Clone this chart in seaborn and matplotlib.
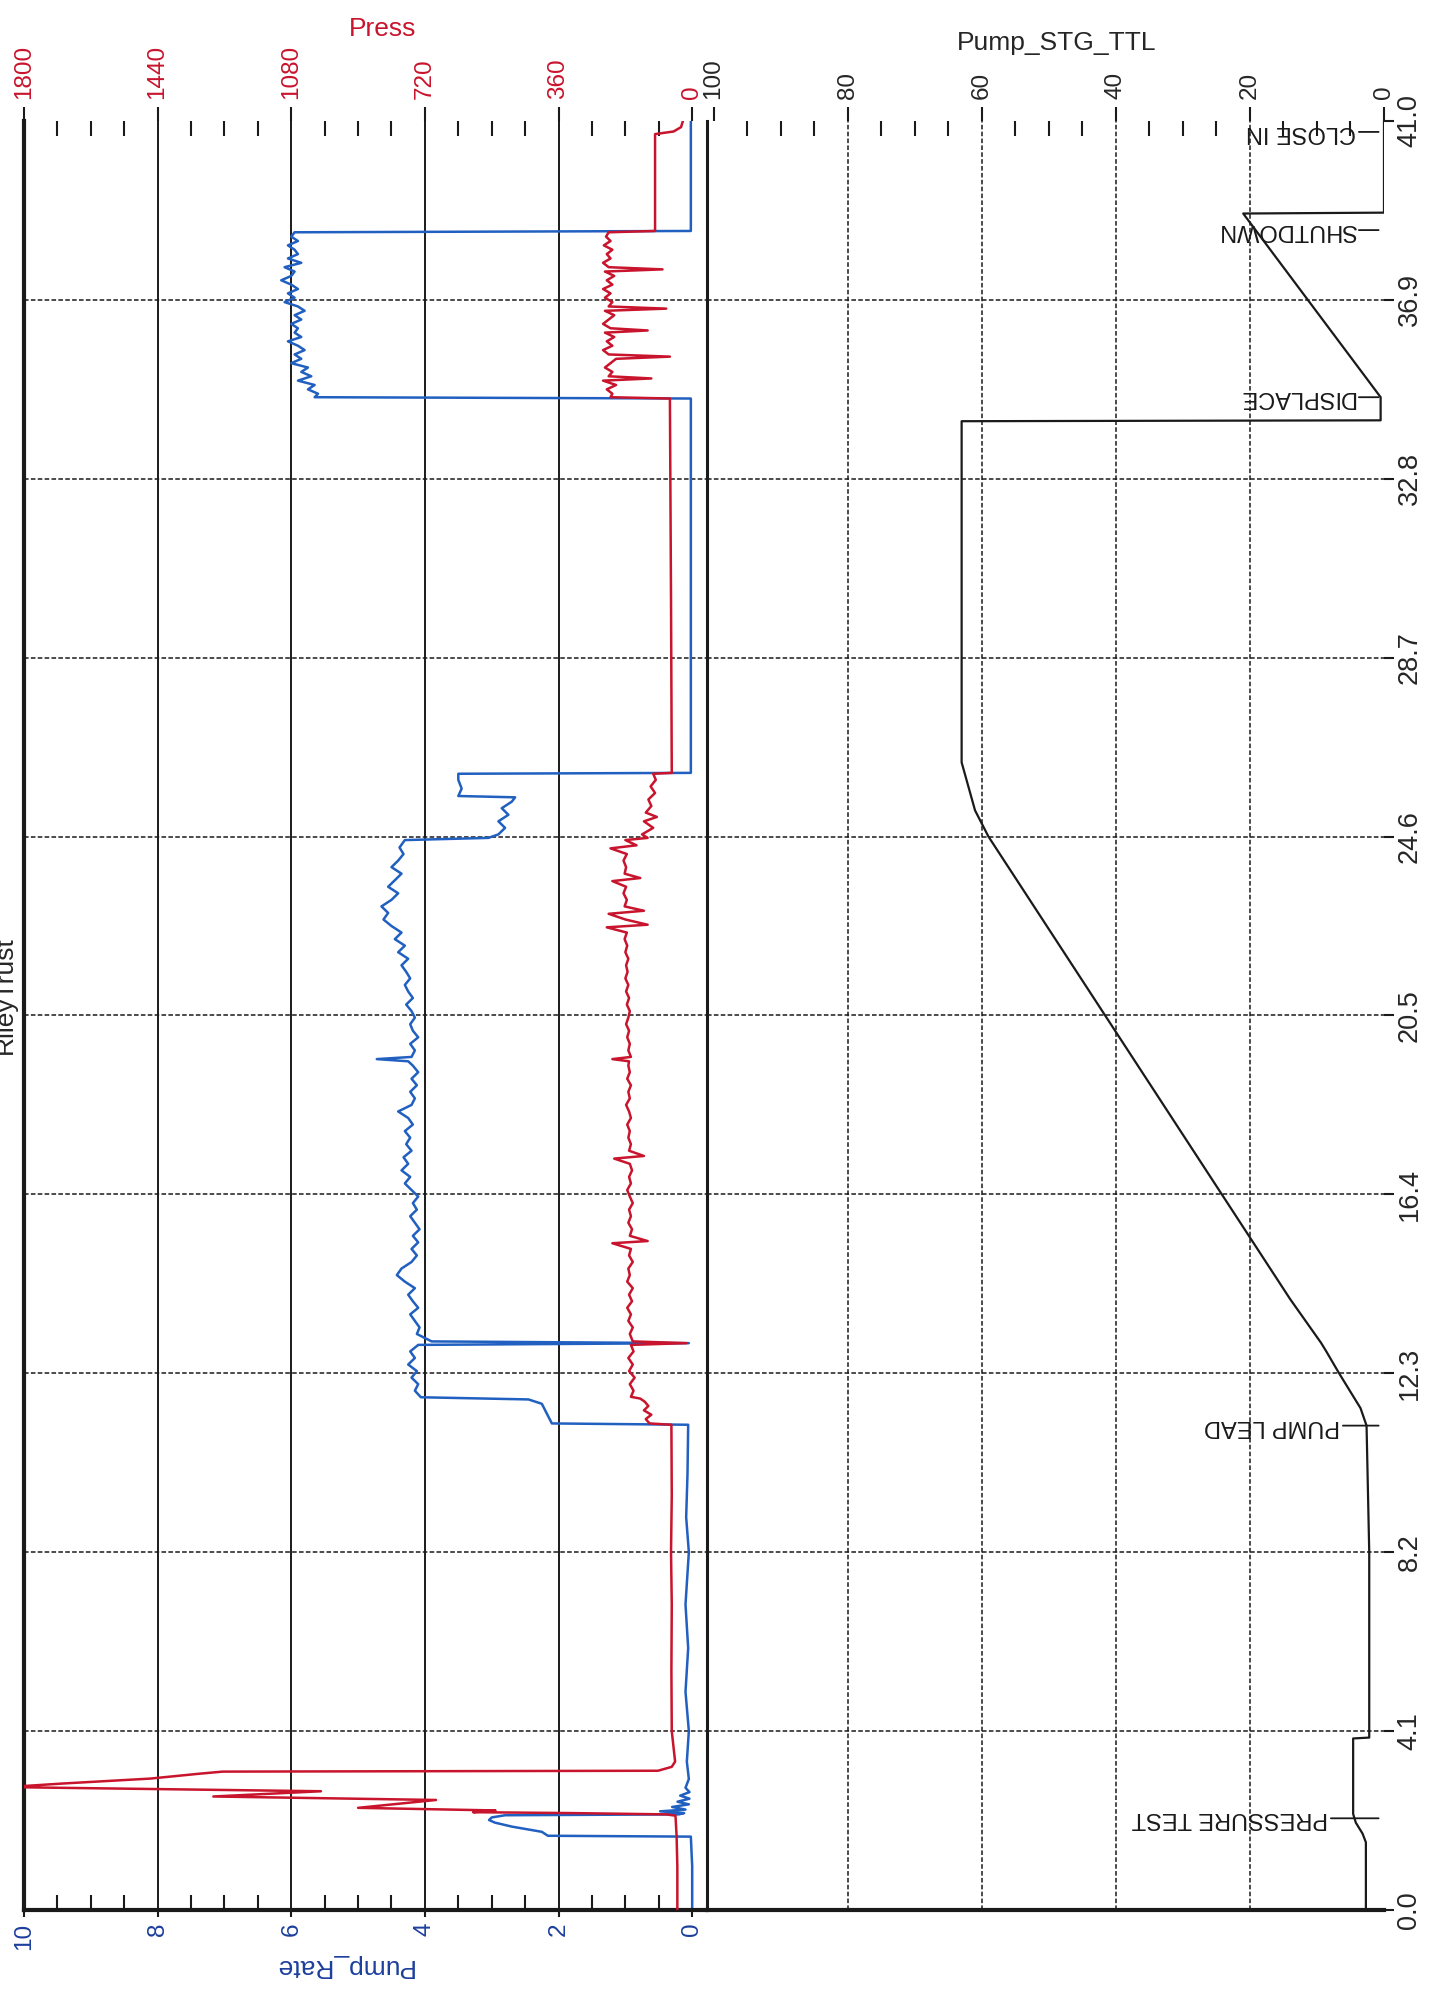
#! /usr/bin/env python3
import pandas as pd
import seaborn as sns
import matplotlib
matplotlib.use('Agg')
import matplotlib.pyplot as plt
from matplotlib.ticker import MultipleLocator

# Output size (pixels) at 100 dpi
FIG_W, FIG_H, DPI = 1453, 1997, 100

# Colours
RED = '#c8142c'
BLUE = '#2160c0'
LABEL_BLUE = '#1c3f9c'

# Axis ticks
TIME_TICKS = [0.0, 4.1, 8.2, 12.3, 16.4, 20.5, 24.6, 28.7, 32.8, 36.9, 41.0]
TIME_LABELS = ['0.0', '4.1', '8.2', '12.3', '16.4', '20.5', '24.6', '28.7', '32.8', '36.9', '41.0']
RATE_TICKS = [0, 2, 4, 6, 8, 10]
PRESS_TICKS = [0, 360, 720, 1080, 1440, 1800]
STG_TICKS = [0, 20, 40, 60, 80, 100]

# Pump_Rate trace (time, value)
rate_t = [0.0, 1.0, 1.68, 1.70, 1.79, 1.91, 2.00, 2.06, 2.12, 2.17, 2.19, 2.22, 2.26, 2.30, 2.36, 2.42, 2.48, 2.55, 2.62, 2.70, 2.80, 3.00, 3.40,
          4.1, 5.0, 6.0, 7.0, 8.2, 9.0, 10.0, 11.12,
          11.15, 11.30, 11.45, 11.60, 11.70, 11.75, 11.90, 12.05, 12.20, 12.35, 12.50, 12.65, 12.80, 12.95, 12.99, 13.03,
          13.20, 13.35, 13.50, 13.65, 13.80, 13.95, 14.10, 14.25, 14.40, 14.55, 14.70, 14.85, 15.00, 15.15, 15.30, 15.45, 15.60, 15.75, 15.90, 16.05,
          16.20, 16.35, 16.50, 16.65, 16.80, 16.95, 17.10, 17.25, 17.40, 17.55, 17.70, 17.85, 18.00, 18.15, 18.30, 18.45, 18.60, 18.75, 18.90, 19.05,
          19.20, 19.35, 19.45, 19.50, 19.55, 19.70, 19.85, 20.00, 20.15, 20.30, 20.45, 20.60, 20.75, 20.90, 21.05, 21.20, 21.35, 21.50, 21.65, 21.80,
          21.95, 22.10, 22.25, 22.40, 22.55, 22.70, 22.85, 23.00, 23.15, 23.30, 23.45, 23.60, 23.75, 23.90, 24.05, 24.20, 24.35, 24.52,
          24.57, 24.65, 24.80, 24.95, 25.10, 25.25, 25.40, 25.50, 25.53, 25.70, 25.90, 26.04, 26.06, 30.0, 34.64,
          34.67, 34.75, 34.85, 34.95, 35.05, 35.15, 35.25, 35.35, 35.45, 35.55, 35.65, 35.75, 35.85, 35.95, 36.05, 36.15, 36.25, 36.35, 36.45, 36.55,
          36.65, 36.75, 36.85, 36.95, 37.05, 37.15, 37.25, 37.35, 37.45, 37.55, 37.65, 37.75, 37.85, 37.95, 38.05, 38.15, 38.25, 38.35, 38.45, 38.48, 41.0]
rate_v = [0.0, 0.0, 0.02, 2.16, 2.25, 2.70, 2.95, 3.04, 3.00, 2.80, 0.20, 0.12, 0.48, 0.10, 0.30, 0.05, 0.22, 0.04, 0.18, 0.04, 0.10, 0.05, 0.08,
          0.05, 0.10, 0.06, 0.10, 0.05, 0.09, 0.07, 0.06,
          2.10, 2.15, 2.20, 2.25, 2.45, 4.06, 4.15, 4.10, 4.20, 4.12, 4.25, 4.15, 4.22, 4.10, 0.05, 3.90,
          4.12, 4.08, 4.15, 4.22, 4.10, 4.18, 4.25, 4.15, 4.30, 4.42, 4.35, 4.20, 4.12, 4.20, 4.10, 4.18, 4.08, 4.15, 4.22, 4.12,
          4.18, 4.10, 4.20, 4.30, 4.22, 4.35, 4.25, 4.32, 4.20, 4.28, 4.22, 4.30, 4.18, 4.25, 4.40, 4.20, 4.15, 4.22, 4.12, 4.20,
          4.10, 4.18, 4.25, 4.72, 4.20, 4.15, 4.22, 4.10, 4.18, 4.22, 4.15, 4.20, 4.28, 4.18, 4.25, 4.30, 4.22, 4.28, 4.35, 4.25,
          4.40, 4.30, 4.45, 4.35, 4.50, 4.62, 4.55, 4.65, 4.50, 4.40, 4.55, 4.45, 4.35, 4.50, 4.40, 4.32, 4.38, 4.30,
          3.05, 2.90, 2.80, 2.90, 2.75, 2.85, 2.70, 2.65, 3.50, 3.45, 3.50, 3.50, 0.02, 0.02, 0.02,
          5.65, 5.60, 5.75, 5.65, 5.90, 5.70, 5.85, 5.75, 6.00, 5.85, 5.95, 5.80, 5.90, 6.05, 5.85, 5.95, 5.90, 6.00, 5.85, 5.95,
          5.80, 5.90, 6.10, 5.95, 6.05, 5.90, 6.00, 6.15, 6.00, 5.95, 6.10, 5.85, 6.05, 5.90, 5.95, 6.05, 5.90, 6.00, 5.95, 0.02, 0.02]

# Press trace (time, value)
press_t = [0.0, 1.0, 1.70, 2.16, 2.19, 2.22, 2.24, 2.28, 2.34, 2.52, 2.60, 2.72, 2.81, 2.84, 2.90, 3.01, 3.12, 3.17, 3.19, 3.28, 3.40,
           4.1, 5.5, 7.0, 8.2, 9.5, 11.12,
           11.15, 11.25, 11.35, 11.45, 11.55, 11.65, 11.72, 11.76, 11.90, 12.05, 12.20, 12.35, 12.50, 12.65, 12.80, 12.95, 12.99, 13.03,
           13.20, 13.35, 13.50, 13.65, 13.80, 13.95, 14.10, 14.25, 14.40, 14.55, 14.70, 14.85, 15.00, 15.15, 15.28, 15.33, 15.45, 15.60, 15.75, 15.90,
           16.05, 16.20, 16.35, 16.50, 16.65, 16.80, 16.95, 17.10, 17.22, 17.28, 17.40, 17.55, 17.70, 17.85, 18.00, 18.15, 18.30, 18.45, 18.60, 18.75,
           18.90, 19.05, 19.20, 19.35, 19.45, 19.50, 19.55, 19.70, 19.85, 20.00, 20.15, 20.30, 20.45, 20.60, 20.75, 20.90, 21.05, 21.20, 21.35, 21.50,
           21.65, 21.80, 21.95, 22.10, 22.25, 22.40, 22.52, 22.58, 22.70, 22.83, 22.90, 23.00, 23.15, 23.30, 23.45, 23.58, 23.65, 23.75, 23.90, 24.05, 24.20, 24.33, 24.40, 24.52,
           24.57, 24.65, 24.80, 24.95, 25.05, 25.15, 25.30, 25.45, 25.60, 25.75, 25.90, 26.04, 26.06, 30.0, 34.64,
           34.67, 34.75, 34.85, 34.95, 35.05, 35.10, 35.15, 35.25, 35.35, 35.45, 35.55, 35.60, 35.65, 35.75, 35.85, 35.95, 36.05, 36.15, 36.20, 36.25,
           36.35, 36.45, 36.55, 36.65, 36.70, 36.75, 36.85, 36.95, 37.05, 37.15, 37.25, 37.35, 37.45, 37.55, 37.60, 37.65, 37.75, 37.85, 37.95, 38.05,
           38.15, 38.25, 38.35, 38.45, 38.48, 40.70, 40.76, 40.86, 41.0]
press_v = [40, 40, 42, 45, 70, 330, 590, 530, 900, 690, 1290, 1000, 1800, 1800, 1690, 1460, 1330, 1265, 92, 55, 46,
           55, 56, 55, 57, 55, 56,
           115, 125, 110, 130, 118, 128, 140, 165, 158, 168, 155, 170, 160, 172, 158, 165, 15, 160,
           168, 160, 172, 165, 175, 162, 170, 160, 175, 168, 172, 160, 170, 165, 215, 120, 168, 162, 172, 165,
           170, 160, 168, 175, 165, 170, 162, 168, 210, 130, 170, 165, 172, 168, 175, 165, 170, 178, 168, 172,
           165, 175, 168, 172, 170, 215, 165, 172, 168, 175, 170, 178, 172, 168, 176, 170, 178, 172, 180, 174,
           178, 172, 180, 175, 182, 176, 230, 120, 180, 225, 130, 182, 176, 185, 178, 215, 140, 182, 178, 185, 176, 220, 150, 180,
           120, 135, 105, 130, 95, 125, 110, 118, 100, 112, 98, 105, 55, 57, 60,
           220, 215, 230, 205, 240, 110, 225, 215, 235, 220, 205, 60, 225, 240, 215, 230, 210, 235, 120, 220,
           240, 225, 210, 235, 70, 225, 215, 235, 220, 240, 215, 230, 210, 235, 80, 225, 240, 220, 230, 215,
           238, 220, 232, 225, 100, 100, 50, 30, 25]

# Pump_STG_TTL trace (time, value)
stg_t = [0.0, 1.55, 1.75, 2.0, 2.2, 3.93, 3.95, 8.2, 11.1, 11.5, 12.3, 12.8, 13.0, 14.0, 24.6, 25.2, 26.3,
         34.12, 34.14, 34.67, 38.88, 38.9, 41.0]
stg_v = [2.7, 2.7, 3.2, 4.2, 4.6, 4.6, 2.2, 2.2, 2.6, 3.5, 6.7, 8.6, 9.4, 14.0, 59.0, 61.0, 63.0,
         63.0, 0.5, 0.5, 21.0, 0.0, 0.0]

# Stage events
event_names = ['PRESSURE TEST', 'PUMP LEAD', 'DISPLACE', 'SHUTDOWN', 'CLOSE IN']
event_t = [2.1, 11.1, 34.67, 38.5, 40.75]

# leader length in pixels per event label
EVENT_LEADER = {'PRESSURE TEST': 51, 'PUMP LEAD': 39, 'DISPLACE': 23, 'SHUTDOWN': 23, 'CLOSE IN': 23}

GRID_DASH = (0, (3, 1.5))


def main():
    assert len(rate_t) == len(rate_v)
    assert len(press_t) == len(press_v)
    assert len(stg_t) == len(stg_v)

    sns.set_theme(style='white')
    plt.rcParams['font.family'] = ['Liberation Sans', 'DejaVu Sans']

    fig = plt.figure(figsize=(FIG_W / DPI, FIG_H / DPI), dpi=DPI)
    ax_up = fig.add_axes([0.0165, 0.0436, 0.4700, 0.8958])
    ax_low = fig.add_axes([0.4865, 0.0436, 0.4660, 0.8958])
    ax_low.patch.set_visible(False)
    ax_press = ax_up.twiny()

    df_rate = pd.DataFrame({'time': rate_t, 'Pump_Rate': rate_v})
    df_press = pd.DataFrame({'time': press_t, 'Press': press_v})
    df_stg = pd.DataFrame({'time': stg_t, 'Pump_STG_TTL': stg_v})

    # grid lines
    for t in TIME_TICKS[1:-1]:
        ax_up.axhline(t, color='k', lw=1.1, ls=GRID_DASH, zorder=1)
        ax_low.axhline(t, color='k', lw=1.1, ls=GRID_DASH, zorder=1)
    for r in RATE_TICKS[1:-1]:
        ax_up.axvline(r, color='k', lw=1.4, zorder=1)
    for s in STG_TICKS[1:-1]:
        ax_low.axvline(s, color='k', lw=1.1, ls=GRID_DASH, zorder=1)

    # traces
    sns.lineplot(data=df_rate, x='Pump_Rate', y='time', sort=False, estimator=None,
                 orient='y', color=BLUE, lw=1.8, ax=ax_up)
    sns.lineplot(data=df_press, x='Press', y='time', sort=False, estimator=None,
                 orient='y', color=RED, lw=1.8, ax=ax_press)
    sns.lineplot(data=df_stg, x='Pump_STG_TTL', y='time', sort=False, estimator=None,
                 orient='y', color='k', lw=1.6, ax=ax_low)

    # limits
    ax_up.set_xlim(10, -0.22)
    ax_press.set_xlim(1800, -0.22 * 180)
    ax_up.set_ylim(0, 41)
    ax_low.set_xlim(101, 0)
    ax_low.set_ylim(0, 41)

    # Pump_Rate axis (bottom)
    ax_up.set_xticks(RATE_TICKS)
    ax_up.xaxis.set_minor_locator(MultipleLocator(0.5))
    ax_up.tick_params(axis='x', which='major', bottom=True, top=False, direction='out', length=5, width=1.5,
                      color='k', labelcolor=LABEL_BLUE, labelsize=17.5, labelrotation=90, pad=4)
    ax_up.tick_params(axis='x', which='minor', bottom=True, top=False, direction='in', length=11, width=1.5, color='k')
    ax_up.set_yticks([])
    ax_up.set_xlabel('Pump_Rate', fontsize=19, color=LABEL_BLUE, rotation=180, labelpad=3)
    ax_up.xaxis.label.set_x(0.468)
    ax_up.set_ylabel('')

    # Press axis (top)
    ax_press.set_xticks(PRESS_TICKS)
    ax_press.xaxis.set_minor_locator(MultipleLocator(90))
    ax_press.tick_params(axis='x', which='major', top=True, bottom=False, labeltop=True, labelbottom=False,
                         direction='out', length=10, width=1.5, color='k', labelcolor=RED, labelsize=17.5,
                         labelrotation=90, pad=6)
    ax_press.tick_params(axis='x', which='minor', top=True, bottom=False, direction='in', length=11, width=1.5, color='k')
    ax_press.set_xlabel('Press', fontsize=19, color=RED, labelpad=6)
    ax_press.xaxis.label.set_x(0.525)
    ax_press.set_ylabel('')

    # Pump_STG_TTL axis (top) and time axis (right)
    ax_low.xaxis.tick_top()
    ax_low.set_xticks(STG_TICKS)
    ax_low.xaxis.set_minor_locator(MultipleLocator(5))
    ax_low.tick_params(axis='x', which='major', top=True, bottom=False, labeltop=True, labelbottom=False,
                       direction='out', length=10, width=1.5, color='k', labelsize=17.5, labelrotation=90, pad=6)
    ax_low.tick_params(axis='x', which='minor', top=True, bottom=False, direction='in', length=11, width=1.5, color='k')
    ax_low.set_xlabel('Pump_STG_TTL', fontsize=19, labelpad=6)
    ax_low.xaxis.set_label_position('top')
    ax_low.xaxis.label.set_x(0.517)
    ax_low.set_yticks(TIME_TICKS)
    ax_low.set_yticklabels(TIME_LABELS, rotation=90, va='center')
    ax_low.tick_params(axis='y', left=False, right=True, labelleft=False, labelright=True,
                       direction='out', length=7, width=1.5, color='k', labelsize=19.5, pad=2)
    ax_low.set_ylabel('')

    # spines
    for name, sp in ax_up.spines.items():
        sp.set_color('k')
        sp.set_visible(name != 'top')
    ax_up.spines['left'].set_linewidth(3)
    ax_up.spines['bottom'].set_linewidth(3)
    ax_up.spines['right'].set_linewidth(2.2)
    for sp in ax_press.spines.values():
        sp.set_visible(False)
    for name, sp in ax_low.spines.items():
        sp.set_color('k')
        sp.set_visible(name == 'bottom')
    ax_low.spines['bottom'].set_linewidth(3)

    # stage event labels
    for name, t in zip(event_names, event_t):
        ax_low.annotate(name, xy=(0.8, t), xytext=(-EVENT_LEADER[name], 0), textcoords='offset pixels',
                        rotation=180, ha='right', va='center', fontsize=17, color='k',
                        arrowprops=dict(arrowstyle='-', color='k', lw=1.3, shrinkA=0, shrinkB=0))

    # title, partly cut off at the page edge
    fig.text(17 / FIG_W, 1 - 995 / FIG_H, 'RileyTrust', rotation=90, ha='right', va='center', fontsize=19)

    fig.savefig('out.png', dpi=DPI)


if __name__ == "__main__":
    main()
